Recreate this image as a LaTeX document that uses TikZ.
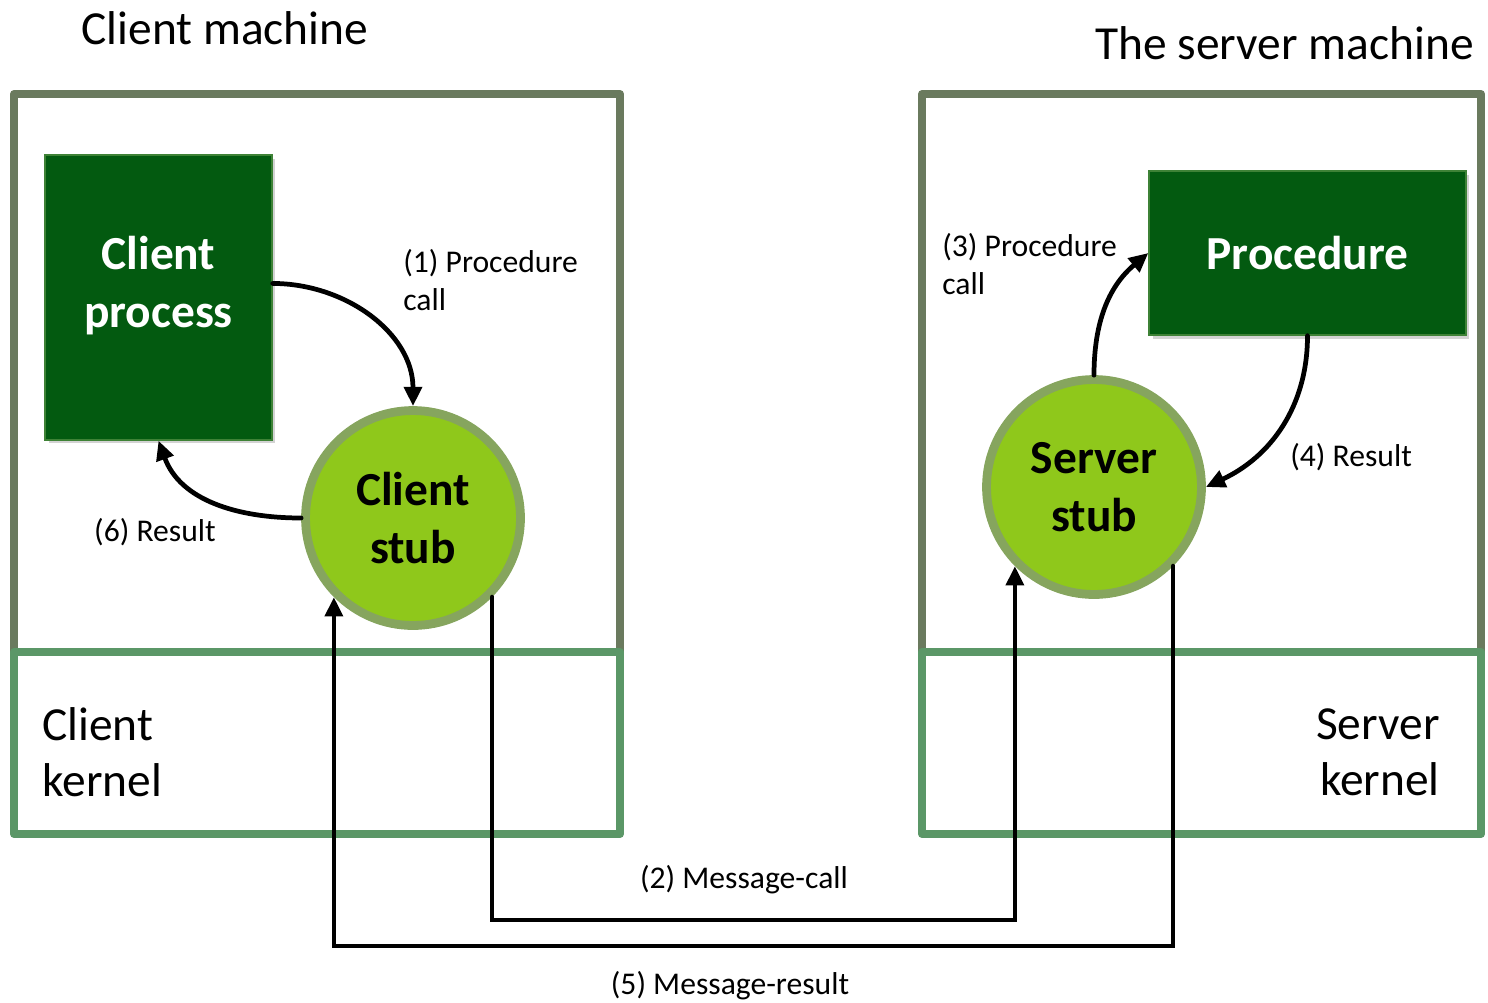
\documentclass[tikz,border=0pt]{standalone}
\usepackage{fontspec}
\setmainfont{Carlito}
\usetikzlibrary{arrows.meta,calc,shadows}

\definecolor{hostgray}{HTML}{6A7A5E}
\definecolor{kernelgreen}{HTML}{5B9767}
\definecolor{procgreen}{HTML}{035A10}
\definecolor{procedge}{HTML}{3E8236}
\definecolor{stubfill}{HTML}{8FC81B}
\definecolor{stubedge}{HTML}{86A55E}

\tikzset{
  host/.style={draw=hostgray, line width=4.5pt, line join=round},
  kernel/.style={draw=kernelgreen, line width=4.5pt, line join=round},
  procbox/.style={rectangle, fill=procgreen, draw=procedge, line width=0.8pt,
    text=white, font=\fontsize{27}{33}\selectfont\bfseries, align=center,
    drop shadow={shadow xshift=2pt, shadow yshift=-2pt, opacity=0.35}},
  stub/.style={circle, fill=stubfill, draw=stubedge, line width=5pt,
    minimum size=4.3cm, inner sep=0pt, align=center,
    font=\fontsize{27}{33}\selectfont\bfseries},
  flow/.style={line width=2.7pt, -{Triangle[length=11pt,width=10pt]}},
  msg/.style={flow, line join=miter},
  lbl/.style={font=\fontsize{18}{22}\selectfont, align=left, inner sep=0pt},
  big/.style={font=\fontsize{27}{32}\selectfont, inner sep=0pt}
}

\begin{document}
\begin{tikzpicture}[x=0.02cm, y=-0.02cm, line cap=round]

% ----------------------------
% CANVAS
% ----------------------------
\useasboundingbox (0,0) rectangle (1488,1002);

% ----------------------------
% MACHINES
% ----------------------------
\def\top{94}      % upper edge of the machines
\def\kern{652}    % upper edge of the kernels
\def\bot{834}     % lower edge of the kernels

\draw[host] (14,\top) rectangle (620,\kern);
\draw[host] (922,\top) rectangle (1481,\kern);
\draw[kernel] (14,\kern) rectangle (620,\bot);
\draw[kernel] (922,\kern) rectangle (1481,\bot);

\node[big] (cmach) at (225,28) {Client machine};
\node[big, anchor=east] (smach) at (1474,43) {The server machine};

\node[big, anchor=west, align=left] (ckern) at (42,752) {Client\\kernel};
\node[big, anchor=east, align=right] (skern) at (1440,752) {Server\\kernel};

% ----------------------------
% PROCESSES AND STUBS
% ----------------------------
\node[procbox, minimum width=4.54cm, minimum height=5.7cm, text depth=18pt] (cproc) at (158.5,297.5) {Client\\process};
\node[procbox, minimum width=6.34cm, minimum height=3.28cm] (proc) at (1307.5,253) {Procedure};

\node[stub] (cstub) at (413,518) {Client\\stub};
\node[stub] (sstub) at (1094,487) {Server\\stub};

% ----------------------------
% LOCAL CALLS
% ----------------------------
\draw[flow] ([yshift=8pt]cproc.east) to[out=0, in=90] (cstub.north);
\draw[flow] (cstub.west) to[out=180, in=-70] (cproc.south);
\draw[flow] (sstub.north) to[out=90, in=-140] (proc.west);
\draw[flow] (proc.south) to[out=-90, in=25] (sstub.east);

\node[lbl, anchor=west] (l1) at (403,280) {(1) Procedure\\call};
\node[lbl] (l6) at (155,532) {(6) Result};
\node[lbl, anchor=west] (l3) at (942,264) {(3) Procedure\\call};
\node[lbl, anchor=west] (l4) at (1290,457) {(4) Result};

% ----------------------------
% MESSAGES
% ----------------------------
\coordinate (mcall) at (744,920);
\coordinate (mres) at (744,946);

\draw[msg] (cstub.-45) |- (mcall) -| (sstub.-135);
\draw[msg] (sstub.-45) |- (mres) -| (cstub.-135);

\node[lbl] (l2) at (744,880) {(2) Message-call};
\node[lbl] (l5) at (730,986) {(5) Message-result};

\end{tikzpicture}
\end{document}
